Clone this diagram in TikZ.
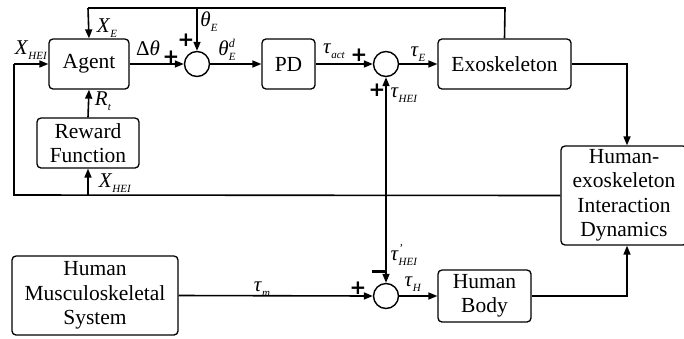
\documentclass[tikz,border=0pt]{standalone}
\usepackage{fontspec}
\setmainfont{Liberation Serif}
\newfontfamily\signfont{DejaVu Sans}
\usetikzlibrary{arrows.meta}
\newcommand\lbl[2]{\textit{#1}\raisebox{-5pt}{\fontsize{11}{11}\selectfont\textit{#2}}}
\newcommand\lblsup[3]{\textit{#1}\makebox[0pt][l]{\raisebox{8pt}{\fontsize{12}{12}\selectfont\textit{#2}}}\raisebox{-5pt}{\fontsize{11}{11}\selectfont\textit{#3}}}
\begin{document}
\begin{tikzpicture}[x=1pt,y=-1pt,
  box/.style={draw,line width=1.3pt,rounded corners=4pt,align=center,inner sep=0pt,
    font=\fontsize{21.5}{24.5}\selectfont},
  sumnode/.style={draw,circle,line width=1.4pt,minimum size=25pt,inner sep=0pt},
  conn/.style={line width=1.6pt},
  arr/.style={conn,-{Triangle[length=9pt,width=7pt]}},
  lab/.style={inner sep=0pt,font=\fontsize{21}{21}\selectfont},
  sgn/.style={inner sep=0pt,font=\signfont\fontsize{20}{20}\selectfont\bfseries}]
\useasboundingbox (0,0) rectangle (684,338);
% boxes
\node[box,minimum width=80pt,minimum height=50pt] (agent) at (89,64) {Agent};
\node[box,minimum width=102pt,minimum height=50pt] (reward) at (88,143) {Reward\\Function};
\node[box,minimum width=53pt,minimum height=50pt] (pd) at (288.5,64) {PD};
\node[box,minimum width=133pt,minimum height=50pt] (exo) at (504.5,64) {Exoskeleton};
\node[box,minimum width=126pt,minimum height=99pt] (hei) at (624,195.5) {Human-\\exoskeleton\\Interaction\\Dynamics};
\node[box,minimum width=166pt,minimum height=79pt] (hms) at (95,295.5) {Human\\Musculoskeletal\\System};
\node[box,minimum width=93pt,minimum height=52pt] (body) at (484.5,296) {Human\\Body};
% sums
\node[sumnode] (s1) at (197,64) {};
\node[sumnode] (s2) at (386,64) {};
\node[sumnode] (s3) at (386,296) {};
% coordinates
\coordinate (top) at (505,8);
\coordinate (topl) at (88,8);
\coordinate (tops1) at (197,8);
\coordinate (er) at (627,64);
\coordinate (bl) at (14,195);
\coordinate (blu) at (14,64);
\coordinate (bre) at (88,195);
\coordinate (bmid) at (386,195);
\coordinate (br) at (627,296);
% forward path
\draw[arr] (agent.east) -- (s1.west);
\draw[arr] (s1.east) -- (pd.west);
\draw[arr] (pd.east) -- (s2.west);
\draw[arr] (s2.east) -- (exo.west);
% top feedback
\draw[conn] (exo.north) -- (top) -- (topl);
\draw[arr] (topl) -- (agent.north);
\draw[arr] (tops1) -- (s1.north);
% exo to HEI
\draw[arr] (exo.east) -- (er) -- (hei.north -| er);
% bottom feedback
\draw[conn] (hei.west) -- (bl) -- (blu);
\draw[arr] (blu) -- (agent.west);
\draw[arr] (bre) -- (reward.south);
\draw[arr] (reward.north) -- (agent.south);
% interaction torque
\draw[arr] (bmid) -- (s2.south);
\draw[arr] (bmid) -- (s3.north);
% human path
\draw[arr] (hms.east) -- (s3.west);
\draw[arr] (s3.east) -- (body.west);
\draw[arr] (body.east) -- (br) -- (hei.south -| br);
% labels
\node[lab] (lxe) at (107,28) {\lbl{X}{E}};
\node[lab] (lthe) at (209,22) {\lbl{θ}{E}};
\node[lab] (ldth) at (148,48) {Δ\textit{θ}};
\node[lab] (lthd) at (227,50) {\lblsup{θ}{d}{E}};
\node[lab] (ltact) at (334,51) {\lbl{τ}{act}};
\node[lab] (lte) at (418,54) {\lbl{τ}{E}};
\node[lab] (lthei) at (404,95) {\lbl{τ}{HEI}};
\node[lab] (lrt) at (103,101) {\lbl{R}{t}};
\node[lab] (lxh) at (115,183) {\lbl{X}{HEI}};
\node[lab] (lxh2) at (31,50) {\lbl{X}{HEI}};
\node[lab] (lthp) at (404,255) {\lblsup{τ}{'}{HEI}};
\node[lab] (lth) at (413,284) {\lbl{τ}{H}};
\node[lab] (ltm) at (262,289) {\lbl{τ}{m}};
% signs
\node[sgn] (p1) at (171,57) {+};
\node[sgn] (p2) at (186,40) {+};
\node[sgn] (p3) at (359,55) {+};
\node[sgn] (p4) at (377,90) {+};
\node[sgn] (p5) at (358,288) {+};
\draw[line width=3pt] (372,271.5) -- (385,271.5);
\end{tikzpicture}
\end{document}
